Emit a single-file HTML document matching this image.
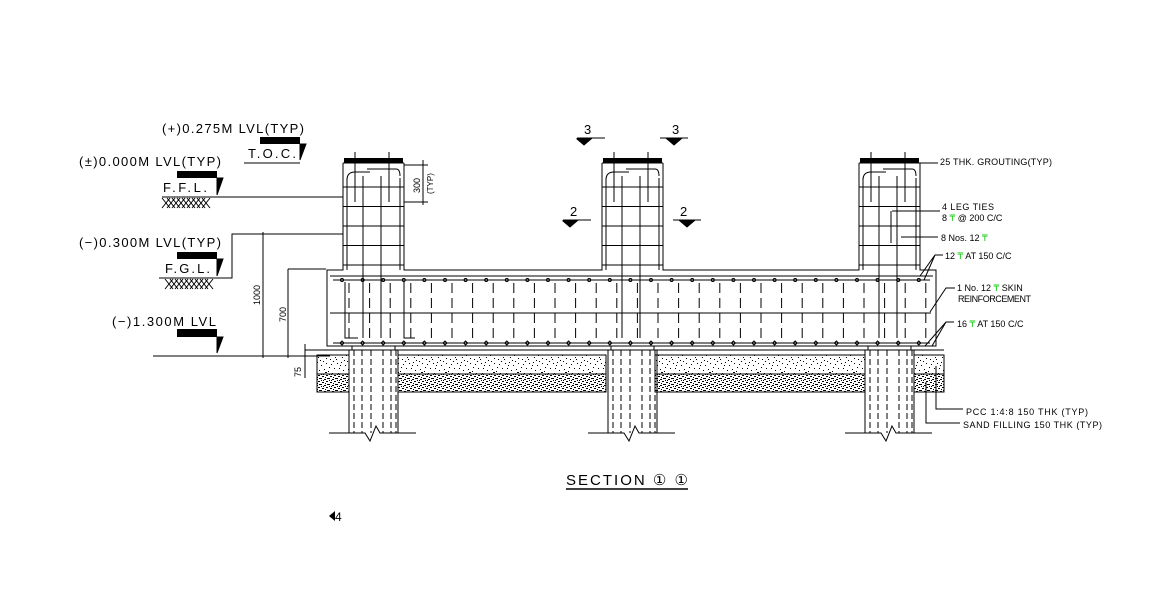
<!DOCTYPE html>
<html><head><meta charset="utf-8"><style>
html,body{margin:0;padding:0;background:#fff;}
svg{display:block;}
text{font-family:"Liberation Sans",sans-serif;fill:#000;}
.g{fill:#1c1;}
</style></head><body>
<svg id="s" width="1161" height="614" viewBox="0 0 1161 614" xmlns="http://www.w3.org/2000/svg">
<defs>
<pattern id="pcc" width="24" height="19" patternUnits="userSpaceOnUse">
<rect width="24" height="19" fill="#fff"/>
<g fill="#000">
<rect x="1" y="2" width="1" height="1"/><rect x="5" y="1" width="1" height="1"/><rect x="9" y="4" width="1" height="1"/><rect x="14" y="2" width="1" height="1"/><rect x="19" y="3" width="1" height="1"/><rect x="22" y="7" width="1" height="1"/><rect x="3" y="7" width="1" height="1"/><rect x="7" y="9" width="1" height="1"/><rect x="12" y="8" width="1" height="1"/><rect x="16" y="10" width="1" height="1"/><rect x="20" y="12" width="1" height="1"/><rect x="2" y="12" width="1" height="1"/><rect x="6" y="15" width="1" height="1"/><rect x="10" y="13" width="1" height="1"/><rect x="14" y="16" width="1" height="1"/><rect x="18" y="17" width="1" height="1"/><rect x="23" y="15" width="1" height="1"/><rect x="11" y="0" width="1" height="1"/><rect x="17" y="6" width="1" height="1"/><rect x="0" y="17" width="1" height="1"/><rect x="8" y="18" width="1" height="1"/><rect x="13" y="11" width="2" height="1"/><rect x="4" y="4" width="1" height="1"/><rect x="21" y="0" width="1" height="1"/>
</g></pattern>
<pattern id="sand" width="8" height="6" patternUnits="userSpaceOnUse">
<rect width="8" height="6" fill="#fff"/>
<g fill="#000"><rect x="0" y="0" width="2" height="1"/><rect x="4" y="1" width="2" height="1"/><rect x="1" y="2" width="1" height="1"/><rect x="6" y="3" width="2" height="1"/><rect x="2" y="4" width="2" height="1"/><rect x="5" y="5" width="1" height="1"/><rect x="3" y="2" width="1" height="1"/><rect x="7" y="0" width="1" height="1"/></g></pattern>
</defs>
<g id="geo" stroke="#000" stroke-width="1" fill="none"></g>

<text x="162" y="133" font-size="13" textLength="142">(+)0.275M  LVL(TYP)</text>
<text x="248" y="158" font-size="13" textLength="48">T.O.C.</text>
<text x="79" y="166" font-size="13" textLength="142">(±)0.000M  LVL(TYP)</text>
<text x="163" y="192" font-size="13" textLength="44">F.F.L.</text>
<text x="79" y="247" font-size="13" textLength="142">(−)0.300M  LVL(TYP)</text>
<text x="165" y="273" font-size="13" textLength="45">F.G.L.</text>
<text x="112" y="326" font-size="13" textLength="104">(−)1.300M  LVL</text>
<text font-size="9" transform="translate(260,305) rotate(-90)">1000</text>
<text font-size="9" transform="translate(286,322) rotate(-90)">700</text>
<text font-size="9" transform="translate(301,377) rotate(-90)">75</text>
<text font-size="9" transform="translate(420,193) rotate(-90)">300</text>
<text font-size="8" transform="translate(433,194) rotate(-90)">(TYP)</text>

<text x="584" y="134" font-size="13">3</text>
<text x="672" y="134" font-size="13">3</text>
<text x="570" y="216" font-size="13">2</text>
<text x="680" y="216" font-size="13">2</text>

<text x="940" y="165" font-size="9" textLength="112">25 THK. GROUTING(TYP)</text>
<text x="942" y="210" font-size="9" textLength="52">4 LEG TIES</text>
<text x="942" y="221" font-size="9">8 <tspan class="g">₸</tspan> @ 200 C/C</text>
<text x="941" y="241" font-size="9">8 Nos. 12 <tspan class="g">₸</tspan></text>
<text x="945" y="259" font-size="9">12 <tspan class="g">₸</tspan> AT 150 C/C</text>
<text x="957" y="291" font-size="9">1 No. 12 <tspan class="g">₸</tspan> SKIN</text>
<text x="958" y="302" font-size="9" textLength="73">REINFORCEMENT</text>
<text x="957" y="327" font-size="9">16 <tspan class="g">₸</tspan> AT 150 C/C</text>
<text x="966" y="415" font-size="9" textLength="122">PCC 1:4:8 150 THK (TYP)</text>
<text x="963" y="428" font-size="9" textLength="139">SAND FILLING 150 THK (TYP)</text>

<text x="566" y="485" font-size="15" textLength="122">SECTION ① ①</text>
<line x1="566" y1="489" x2="688" y2="489" stroke="#000" stroke-width="1.5"/>
<text x="335" y="521" font-size="12">4</text>
<polygon points="329,516 335,511 335,521" fill="#000"/>
</svg>
<script>
var g=document.getElementById('geo'),NS='http://www.w3.org/2000/svg';
function el(t,a){var e=document.createElementNS(NS,t);for(var k in a)e.setAttribute(k,a[k]);g.appendChild(e);return e;}
function L(x1,y1,x2,y2,d){var a={x1:x1,y1:y1,x2:x2,y2:y2};if(d)a['stroke-dasharray']=d;return el('line',a);}
function P(d,f){return el('path',{d:d,fill:f||'none'});}
function R(x,y,w,h,f){return el('rect',{x:x,y:y,width:w,height:h,fill:f,stroke:f=='#000'?'none':'#000'});}
var segs=[[317,349],[398,606],[655,865],[914,944]];
segs.forEach(function(s){R(s[0],355,s[1]-s[0],19,'url(#pcc)');R(s[0],374,s[1]-s[0],18,'url(#sand)');});
P('M343,163 V270 H327 V346 H936 V270 H920 V163');
P('M404,163 V270 H602 V163 M663,163 V270 H859 V163');
L(343,163,404,163);L(602,163,663,163);L(859,163,920,163);
L(330,276,933,276);L(327,346,936,346);L(305,350,944,350);
[[343,404],[602,663],[859,920]].forEach(function(c){
 var a=c[0],b=c[1];
 R(a+1,158,b-a-2,5,'#000');
 L(a+4,178,a+4,270);L(b-4,178,b-4,270);
 P('M'+(a+4)+',180 Q'+(a+4)+',172 '+(a+12)+',172 H'+(a+27));
 P('M'+(a+24)+',169 H'+(b-8)+' Q'+(b-4)+',169 '+(b-4)+',176');
 for(var y=187;y<=265;y+=19.5)L(a,y,b,y);
 L(a+12,152,a+12,202);L(b-15,152,b-15,202);
 L(a+20,176,a+20,338);L(a+38,176,a+38,338);
 var px=a+6,qx=b-6;
 P('M'+px+',433 V350 H'+(px+3)+' V346 M'+qx+',433 V350 H'+(qx-3)+' V346');
 [5,13,22,34,42,47].forEach(function(o){L(px+o,350,px+o,433,'6,3');});
 P('M'+(px-20)+',433 H'+(px+16)+' L'+(px+21)+',441 L'+(px+27)+',426 L'+(px+31)+',433 H'+(qx+18));
});
L(333,280,930,280);L(333,343,930,343);L(330,313,931,313);
P('M345,282 V338 H358 M404,282 V338 H415');
for(var x=341;x<=920;x+=20.6){
 L(x+8,283,x+8,340,'10,5');
 el('circle',{cx:x+1,cy:280,r:1.5});
 P('M'+(x+1)+',341 l2,2 l-2,2 l-2,-2 z');
}
P('M244,163 H300 M162,197 H343 M159,278 H232 V234 H343 M153,356 H330');
L(263,232,263,358);L(288,269,288,358);L(288,269,326,269);L(305,344,305,378);
L(404,165,428,165);L(404,202,428,202);L(423,160,423,205);
R(260,137,40,7,'#000');P('M300,144 H306 L300,160 Z','#000');
R(177,171,40,7,'#000');P('M217,178 H223 L217,195 Z','#000');
R(177,252,40,7,'#000');P('M217,259 H223 L217,276 Z','#000');
R(177,329,40,8,'#000');P('M217,337 H223 L217,353 Z','#000');
[[162,198],[165,279]].forEach(function(h){for(var i=0;i<9;i++){L(h[0]+i*5,h[1]+10,h[0]+i*5+8,h[1]);L(h[0]+48-i*5,h[1]+10,h[0]+40-i*5,h[1]);}});
[[577,138],[660,138],[563,220],[673,220]].forEach(function(m){L(m[0],m[1],m[0]+28,m[1]);P('M'+(m[0]+(m[0]<620?0:7))+','+(m[1]+1)+' h14 l-7,6 z','#000');});
L(920,163,938,163);L(892,211,940,211);L(891,211,891,243);L(901,237,938,237);
P('M920,276 L935,255 H943 M924,280 L935,255');P('M930,312 L946,288 H955 M925,346 L946,322 H954 M932,346 L946,322');
P('M936,366 V409 H963 M926,382 V423 H960');
</script>
</body></html>
